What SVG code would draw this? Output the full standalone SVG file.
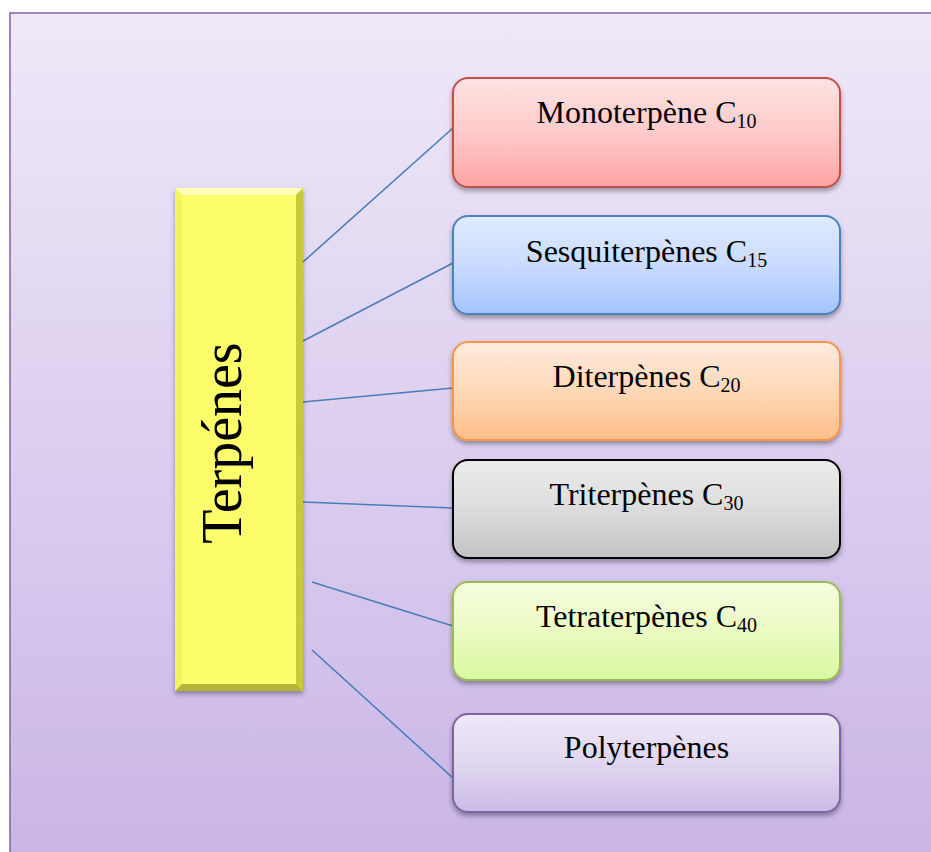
<svg xmlns="http://www.w3.org/2000/svg" width="931" height="852" viewBox="0 0 931 852">
<defs>
<linearGradient id="bg" x1="0" y1="0" x2="0" y2="1"><stop offset="0" stop-color="#efe9f8"/><stop offset="1" stop-color="#c9b5e6"/></linearGradient>
<linearGradient id="gRed" x1="0" y1="0" x2="0" y2="1"><stop offset="0" stop-color="#ffe3e3"/><stop offset="0.5" stop-color="#ffcaca"/><stop offset="1" stop-color="#ffa4a3"/></linearGradient>
<linearGradient id="gBlue" x1="0" y1="0" x2="0" y2="1"><stop offset="0" stop-color="#e0ebff"/><stop offset="0.5" stop-color="#c9dbff"/><stop offset="1" stop-color="#a4c4fd"/></linearGradient>
<linearGradient id="gOrange" x1="0" y1="0" x2="0" y2="1"><stop offset="0" stop-color="#ffebdd"/><stop offset="0.5" stop-color="#ffd8b8"/><stop offset="1" stop-color="#ffbe88"/></linearGradient>
<linearGradient id="gGrey" x1="0" y1="0" x2="0" y2="1"><stop offset="0" stop-color="#ececec"/><stop offset="0.5" stop-color="#dcdcdc"/><stop offset="1" stop-color="#c2c2c2"/></linearGradient>
<linearGradient id="gGreen" x1="0" y1="0" x2="0" y2="1"><stop offset="0" stop-color="#f6fddf"/><stop offset="0.5" stop-color="#ebfbc2"/><stop offset="1" stop-color="#d9f8a0"/></linearGradient>
<linearGradient id="gPurple" x1="0" y1="0" x2="0" y2="1"><stop offset="0" stop-color="#efe9f8"/><stop offset="0.5" stop-color="#e0d6f0"/><stop offset="1" stop-color="#cbbbe6"/></linearGradient>
<filter id="sh" x="-10%" y="-10%" width="120%" height="130%"><feDropShadow dx="0" dy="3" stdDeviation="2.5" flood-color="#000" flood-opacity="0.35"/></filter>
</defs>
<style>
.box{stroke-width:2}
.lbl{font-family:"Liberation Serif","Times New Roman",serif;font-size:32px;fill:#000;text-anchor:middle}
.sub{font-size:20px}
.conn line{stroke:#4a7ebb;stroke-width:1.6;fill:none}
</style>
<rect x="10" y="13" width="930" height="850" fill="url(#bg)" stroke="#8064a2" stroke-width="1.5"/>
<g id="connectors" class="conn">
<line x1="303" y1="262" x2="453" y2="128"/>
<line x1="303" y1="341" x2="453" y2="263"/>
<line x1="303" y1="402" x2="453" y2="388"/>
<line x1="303" y1="502" x2="453" y2="508"/>
<line x1="312" y1="582" x2="453" y2="626"/>
<line x1="312" y1="650" x2="453" y2="778"/>
</g>
<g id="terpenes">
<g filter="url(#sh)">
<rect x="175" y="188" width="128" height="503" fill="#fefe6c"/>
<polygon points="175,188 303,188 296,195 182,195" fill="#ffffb8"/>
<polygon points="175,188 182,195 182,684 175,691" fill="#f4f45e"/>
<polygon points="303,188 303,691 296,684 296,195" fill="#c9c940"/>
<polygon points="175,691 303,691 296,684 182,684" fill="#b4b43a"/>
</g>
<text class="lbl" style="font-size:56px" transform="translate(241,443) rotate(-90)" x="0" y="0">Terpénes</text>
</g>
<g id="mono">
<rect class="box" x="453" y="78" width="387" height="109" rx="15" fill="url(#gRed)" stroke="#c0504d" filter="url(#sh)"/>
<text class="lbl" x="646.5" y="123">Monoterpène C<tspan class="sub" dy="5">10</tspan></text>
</g>
<g id="sesqui">
<rect class="box" x="453" y="216" width="387" height="98" rx="15" fill="url(#gBlue)" stroke="#4f81bd" filter="url(#sh)"/>
<text class="lbl" x="646.5" y="262">Sesquiterpènes C<tspan class="sub" dy="5">15</tspan></text>
</g>
<g id="di">
<rect class="box" x="453" y="342" width="387" height="98" rx="15" fill="url(#gOrange)" stroke="#f79646" filter="url(#sh)"/>
<text class="lbl" x="646.5" y="387">Diterpènes C<tspan class="sub" dy="5">20</tspan></text>
</g>
<g id="tri">
<rect class="box" x="453" y="460" width="387" height="98" rx="15" fill="url(#gGrey)" stroke="#000000" filter="url(#sh)"/>
<text class="lbl" x="646.5" y="505">Triterpènes C<tspan class="sub" dy="5">30</tspan></text>
</g>
<g id="tetra">
<rect class="box" x="453" y="582" width="387" height="98" rx="15" fill="url(#gGreen)" stroke="#9bbb59" filter="url(#sh)"/>
<text class="lbl" x="646.5" y="627">Tetraterpènes C<tspan class="sub" dy="5">40</tspan></text>
</g>
<g id="poly">
<rect class="box" x="453" y="714" width="387" height="98" rx="15" fill="url(#gPurple)" stroke="#8064a2" filter="url(#sh)"/>
<text class="lbl" x="646.5" y="758">Polyterpènes</text>
</g>
</svg>
